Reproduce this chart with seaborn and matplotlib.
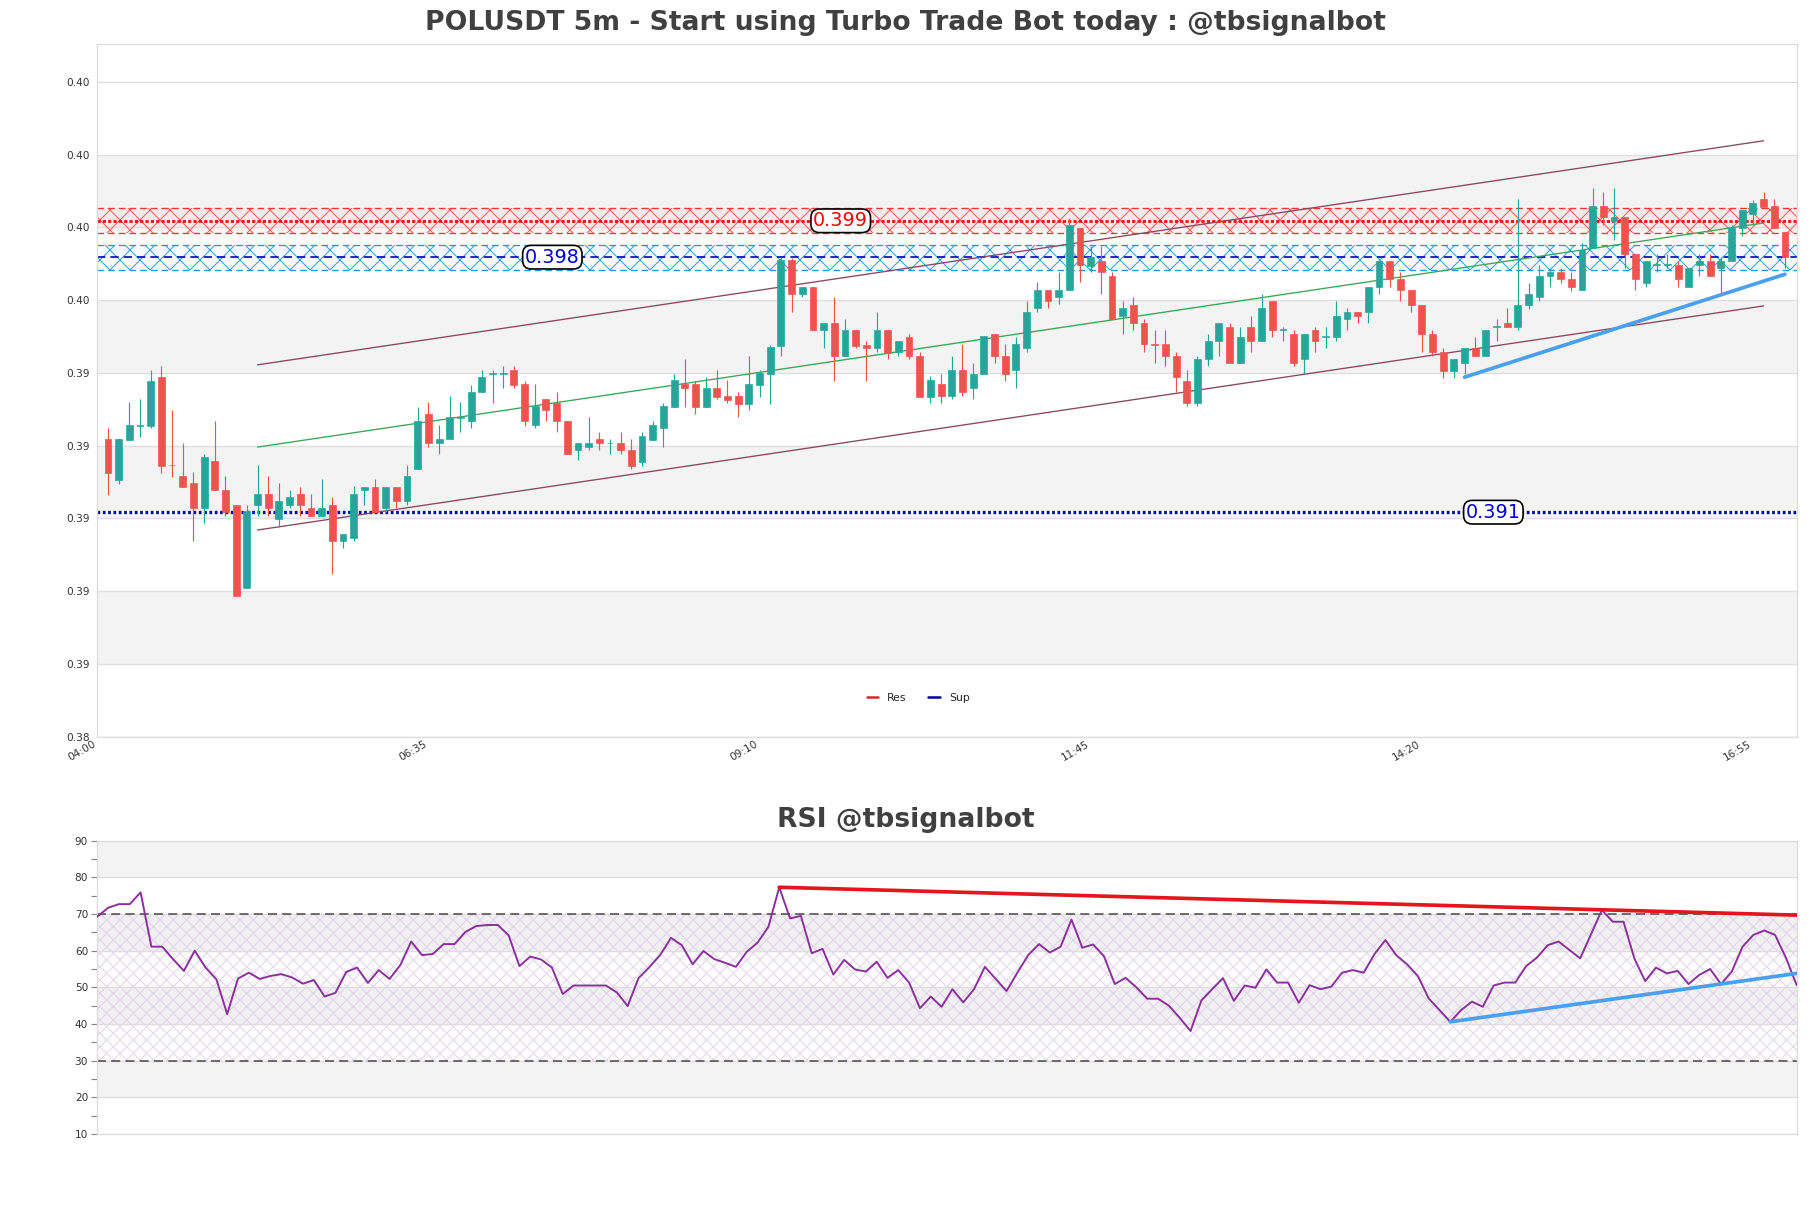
import numpy as np
import pandas as pd
import seaborn as sns
import matplotlib
matplotlib.use('Agg')
import matplotlib.pyplot as plt
from matplotlib.lines import Line2D
from matplotlib.ticker import FormatStrFormatter, MultipleLocator

sns.set_theme(style='white')
plt.rcParams['font.family'] = ['DejaVu Sans']
plt.rcParams['hatch.linewidth'] = 0.6

# ---- data ----
times = ['04:00', '06:35', '09:10', '11:45', '14:20', '16:55']

opens = [
    0.39299, 0.39186, 0.39296, 0.39334, 0.39333, 0.39469, 0.39228, 0.39197, 0.39177, 0.39108,
    0.39238, 0.39159, 0.39118, 0.38888, 0.39116, 0.39148, 0.39077, 0.39116, 0.39148, 0.39108,
    0.39087, 0.39118, 0.39017, 0.39027, 0.39157, 0.39167, 0.39108, 0.39167, 0.39128, 0.39217,
    0.39368, 0.39287, 0.39299, 0.39357, 0.39348, 0.39428, 0.39477, 0.39477, 0.39489, 0.39448,
    0.39336, 0.39408, 0.39398, 0.39348, 0.39267, 0.39276, 0.39298, 0.39286, 0.39287, 0.39268,
    0.39236, 0.39296, 0.39328, 0.39385, 0.39448, 0.39448, 0.39385, 0.39438, 0.39417, 0.39417,
    0.39395, 0.39446, 0.39477, 0.39555, 0.39789, 0.39697, 0.39717, 0.39597, 0.39617, 0.39525,
    0.39599, 0.39557, 0.39547, 0.39599, 0.39537, 0.39579, 0.39527, 0.39415, 0.39448, 0.39416,
    0.39489, 0.39437, 0.39478, 0.39587, 0.39527, 0.39487, 0.39548, 0.39657, 0.39709, 0.39689,
    0.39709, 0.39878, 0.39775, 0.39788, 0.39747, 0.39637, 0.39667, 0.39617, 0.39559, 0.39558,
    0.39527, 0.39457, 0.39397, 0.39518, 0.39567, 0.39607, 0.39507, 0.39607, 0.39567, 0.39678,
    0.39598, 0.39587, 0.39518, 0.39599, 0.39579, 0.39579, 0.39628, 0.39647, 0.39646, 0.39716,
    0.39788, 0.39739, 0.39709, 0.39667, 0.39587, 0.39537, 0.39486, 0.39506, 0.39548, 0.39526,
    0.39607, 0.39617, 0.39606, 0.39667, 0.39689, 0.39747, 0.39757, 0.39739, 0.39707, 0.39823,
    0.39938, 0.39897, 0.39908, 0.39808, 0.39727, 0.39776, 0.39777, 0.39777, 0.39716, 0.39777,
    0.39788, 0.39768, 0.39788, 0.39878, 0.39918, 0.39959, 0.39938, 0.39867,
]
highs = [
    0.39328, 0.39299, 0.39399, 0.39409, 0.39489, 0.39498, 0.39379, 0.39287, 0.39207, 0.39257,
    0.39348, 0.39197, 0.39118, 0.39118, 0.39227, 0.39197, 0.39177, 0.39159, 0.39167, 0.39148,
    0.39188, 0.39139, 0.39037, 0.39168, 0.39167, 0.39188, 0.39167, 0.39167, 0.39227, 0.39387,
    0.39399, 0.39337, 0.39417, 0.39399, 0.39447, 0.39489, 0.39489, 0.39498, 0.39498, 0.39457,
    0.39448, 0.39408, 0.39428, 0.39348, 0.39287, 0.39359, 0.39317, 0.39298, 0.39317, 0.39299,
    0.39317, 0.39348, 0.39397, 0.39477, 0.39519, 0.39457, 0.39469, 0.39489, 0.39459, 0.39427,
    0.39527, 0.39489, 0.39557, 0.39796, 0.39796, 0.39717, 0.39717, 0.39617, 0.39688, 0.39629,
    0.39599, 0.39568, 0.39648, 0.39599, 0.39568, 0.39588, 0.39536, 0.39470, 0.39478, 0.39527,
    0.39558, 0.39507, 0.39580, 0.39587, 0.39558, 0.39579, 0.39678, 0.39729, 0.39709, 0.39758,
    0.39906, 0.39878, 0.39828, 0.39828, 0.39758, 0.39678, 0.39689, 0.39628, 0.39599, 0.39599,
    0.39537, 0.39487, 0.39527, 0.39587, 0.39617, 0.39617, 0.39607, 0.39637, 0.39697, 0.39678,
    0.39607, 0.39599, 0.39587, 0.39607, 0.39607, 0.39678, 0.39658, 0.39647, 0.39716, 0.39788,
    0.39788, 0.39757, 0.39709, 0.39667, 0.39597, 0.39547, 0.39518, 0.39548, 0.39579, 0.39597,
    0.39628, 0.39658, 0.39959, 0.39727, 0.39777, 0.39768, 0.39768, 0.39757, 0.39837, 0.39988,
    0.39977, 0.39988, 0.39908, 0.39808, 0.39788, 0.39808, 0.39808, 0.39787, 0.39768, 0.39808,
    0.39808, 0.39798, 0.39887, 0.39929, 0.39956, 0.39977, 0.39959, 0.39867,
]
lows = [
    0.39145, 0.39175, 0.39296, 0.39305, 0.39328, 0.39206, 0.39195, 0.39165, 0.39017, 0.39066,
    0.39157, 0.39087, 0.38866, 0.38888, 0.39086, 0.39087, 0.39057, 0.39108, 0.39087, 0.39087,
    0.39087, 0.38927, 0.38999, 0.39017, 0.39116, 0.39097, 0.39097, 0.39108, 0.39116, 0.39217,
    0.39275, 0.39257, 0.39299, 0.39317, 0.39328, 0.39428, 0.39397, 0.39437, 0.39437, 0.39335,
    0.39328, 0.39347, 0.39317, 0.39257, 0.39241, 0.39267, 0.39267, 0.39257, 0.39257, 0.39215,
    0.39224, 0.39296, 0.39276, 0.39385, 0.39385, 0.39368, 0.39385, 0.39408, 0.39397, 0.39359,
    0.39377, 0.39415, 0.39395, 0.39525, 0.39646, 0.39688, 0.39597, 0.39547, 0.39457, 0.39525,
    0.39547, 0.39457, 0.39537, 0.39518, 0.39525, 0.39518, 0.39415, 0.39397, 0.39397, 0.39408,
    0.39416, 0.39408, 0.39478, 0.39507, 0.39457, 0.39437, 0.39537, 0.39648, 0.39657, 0.39669,
    0.39709, 0.39729, 0.39758, 0.39698, 0.39628, 0.39587, 0.39599, 0.39537, 0.39507, 0.39498,
    0.39427, 0.39388, 0.39388, 0.39498, 0.39527, 0.39507, 0.39507, 0.39537, 0.39567, 0.39579,
    0.39567, 0.39498, 0.39478, 0.39537, 0.39548, 0.39567, 0.39599, 0.39617, 0.39617, 0.39697,
    0.39716, 0.39677, 0.39647, 0.39537, 0.39526, 0.39466, 0.39466, 0.39477, 0.39526, 0.39526,
    0.39567, 0.39606, 0.39597, 0.39656, 0.39677, 0.39716, 0.39727, 0.39706, 0.39707, 0.39823,
    0.39887, 0.39846, 0.39768, 0.39709, 0.39716, 0.39757, 0.39768, 0.39716, 0.39716, 0.39747,
    0.39747, 0.39700, 0.39788, 0.39857, 0.39887, 0.39935, 0.39878, 0.39768,
]
closes = [
    0.39206, 0.39299, 0.39337, 0.39337, 0.39458, 0.39225, 0.39226, 0.39165, 0.39108, 0.39249,
    0.39157, 0.39097, 0.38866, 0.39099, 0.39148, 0.39108, 0.39128, 0.39140, 0.39116, 0.39087,
    0.39108, 0.39017, 0.39037, 0.39148, 0.39167, 0.39097, 0.39167, 0.39128, 0.39197, 0.39348,
    0.39287, 0.39299, 0.39358, 0.39359, 0.39428, 0.39469, 0.39479, 0.39479, 0.39447, 0.39347,
    0.39388, 0.39377, 0.39347, 0.39257, 0.39287, 0.39287, 0.39287, 0.39288, 0.39267, 0.39224,
    0.39307, 0.39337, 0.39388, 0.39459, 0.39437, 0.39385, 0.39438, 0.39415, 0.39406, 0.39395,
    0.39448, 0.39480, 0.39550, 0.39789, 0.39697, 0.39717, 0.39597, 0.39617, 0.39525, 0.39599,
    0.39555, 0.39547, 0.39599, 0.39535, 0.39568, 0.39525, 0.39415, 0.39459, 0.39416, 0.39489,
    0.39427, 0.39478, 0.39580, 0.39527, 0.39478, 0.39558, 0.39648, 0.39709, 0.39678, 0.39709,
    0.39887, 0.39776, 0.39798, 0.39758, 0.39628, 0.39658, 0.39617, 0.39558, 0.39557, 0.39527,
    0.39468, 0.39397, 0.39518, 0.39567, 0.39617, 0.39507, 0.39579, 0.39567, 0.39658, 0.39599,
    0.39600, 0.39507, 0.39587, 0.39567, 0.39581, 0.39637, 0.39648, 0.39637, 0.39716, 0.39788,
    0.39738, 0.39707, 0.39666, 0.39587, 0.39537, 0.39486, 0.39518, 0.39548, 0.39526, 0.39597,
    0.39609, 0.39606, 0.39667, 0.39697, 0.39747, 0.39757, 0.39738, 0.39715, 0.39819, 0.39938,
    0.39908, 0.39908, 0.39808, 0.39738, 0.39788, 0.39778, 0.39779, 0.39738, 0.39768, 0.39788,
    0.39747, 0.39788, 0.39878, 0.39929, 0.39947, 0.39935, 0.39878, 0.39798,
]
rsi = [
    69.3, 71.7, 72.7, 72.7, 75.9, 61.1, 61.1, 57.7, 54.5, 60.0,
    55.4, 52.2, 42.7, 52.4, 54.0, 52.3, 53.1, 53.6, 52.7, 51.0,
    52.0, 47.5, 48.5, 54.2, 55.4, 51.2, 54.7, 52.3, 56.1, 62.5,
    58.8, 59.1, 61.8, 61.8, 65.1, 66.7, 67.0, 67.0, 64.2, 55.8,
    58.4, 57.6, 55.4, 48.2, 50.5, 50.5, 50.5, 50.5, 48.6, 44.9,
    52.5, 55.5, 58.8, 63.5, 61.5, 56.3, 59.9, 57.7, 56.7, 55.6,
    59.7, 62.2, 66.5, 77.3, 68.8, 69.5, 59.3, 60.5, 53.5, 57.5,
    54.9, 54.3, 57.0, 52.6, 54.7, 51.3, 44.3, 47.5, 44.7, 49.5,
    45.9, 49.5, 55.6, 52.3, 49.0, 54.0, 58.8, 61.8, 59.5, 61.1,
    68.5, 60.8, 61.7, 58.5, 50.9, 52.6, 50.0, 46.9, 46.9, 45.0,
    41.7, 38.1, 46.4, 49.5, 52.5, 46.3, 50.5, 49.9, 54.9, 51.3,
    51.3, 45.8, 50.6, 49.5, 50.2, 54.0, 54.7, 54.0, 59.1, 62.9,
    58.8, 56.3, 53.1, 47.0, 43.8, 40.6, 43.8, 46.1, 44.7, 50.5,
    51.3, 51.3, 55.8, 58.1, 61.5, 62.5, 60.2, 57.9, 64.5, 71.1,
    67.9, 67.9, 57.9, 51.7, 55.4, 53.8, 54.5, 50.9, 53.4, 55.0,
    50.9, 54.3, 61.1, 64.3, 65.5, 64.3, 58.1, 50.6,
]

# support / resistance levels and zone half width
res_level = 0.39898
sup_level = 0.39798
sup2_level = 0.39097
zone_half = 0.00034

# channel (x in 5-minute steps from 04:00)
chan_x = [15, 156]
chan_upper = [0.39502, 0.40118]
chan_mid = [0.39276, 0.39892]
chan_lower = [0.39048, 0.39664]

# trend lines
price_trend_x = [128, 158]
price_trend_y = [0.39468, 0.39751]
rsi_res_x = [63, 157]
rsi_res_y = [77.3, 69.7]
rsi_sup_x = [125, 157]
rsi_sup_y = [40.6, 53.8]

UP = '#26a69a'
DOWN = '#ef5350'
SHADE = '#f3f3f3'
GRID = '#dedede'

W, H, DPI = 1811, 1208, 120
fig = plt.figure(figsize=(W / DPI, H / DPI), dpi=DPI)
fig.patch.set_facecolor('white')
ax = fig.add_axes([97.3 / W, 1 - 737 / H, 1699.4 / W, 693 / H])
ax2 = fig.add_axes([97.3 / W, 1 - 1134 / H, 1699.4 / W, 293.3 / H])

# ---------------- price panel ----------------
df = pd.DataFrame({'open': opens, 'high': highs, 'low': lows, 'close': closes})
df['pos'] = np.arange(1, len(df) + 1)
colors = np.where(df['close'] >= df['open'], UP, DOWN)

ymin, ymax = 0.38479, 0.40384
yt = 0.3848 + 0.002 * np.arange(10)
for i in range(1, 9, 2):
    ax.axhspan(yt[i], yt[i + 1], color=SHADE, lw=0, zorder=0.1)

# resistance zone
ax.axhspan(res_level - zone_half, res_level + zone_half, facecolor=(1, 0.85, 0.85, 0.3),
           edgecolor=(1, 0.15, 0.15, 0.75), hatch='xx', lw=0, zorder=1)
ax.axhline(res_level - zone_half, color='#ff3333', ls=(0, (5, 3)), lw=0.8, zorder=1.2)
ax.axhline(res_level + zone_half, color='#ff3333', ls=(0, (5, 3)), lw=0.8, zorder=1.2)
ax.axhline(res_level, color='red', ls=(0, (1.2, 0.8)), lw=1.6, zorder=1.3)
# support zone
ax.axhspan(sup_level - zone_half, sup_level + zone_half, facecolor=(0.9, 0.96, 1, 0.3),
           edgecolor=(0.1, 0.58, 0.88, 0.9), hatch='xx', lw=0, zorder=1)
ax.axhline(sup_level - zone_half, color='#1e96e6', ls=(0, (5, 3)), lw=0.8, zorder=1.2)
ax.axhline(sup_level + zone_half, color='#1e96e6', ls=(0, (5, 3)), lw=0.8, zorder=1.2)
ax.axhline(sup_level, color='#0000cc', ls=(0, (5, 3)), lw=1.0, zorder=1.3)
# lower support
ax.axhline(sup2_level, color='#0000b0', ls=(0, (0.8, 0.8)), lw=2.0, zorder=1.3)

# channel
sns.lineplot(x=chan_x, y=chan_upper, color='#8c4660', lw=0.8, ax=ax, zorder=2)
sns.lineplot(x=chan_x, y=chan_lower, color='#8c4660', lw=0.8, ax=ax, zorder=2)
sns.lineplot(x=chan_x, y=chan_mid, color='#3aa655', lw=0.8, ax=ax, zorder=2)

# candles
ax.vlines(df['pos'], df['low'], df['high'], colors=colors, lw=0.7, zorder=3)
ax.bar(df['pos'], (df['close'] - df['open']).abs(),
       bottom=df[['open', 'close']].min(axis=1), width=0.64,
       color=colors, edgecolor=colors, linewidth=0.4, zorder=4)

sns.lineplot(x=price_trend_x, y=price_trend_y, color='#4aa0f0', lw=2.2, ax=ax, zorder=5)

box = dict(boxstyle='round,pad=0.12,rounding_size=0.45', fc='white', ec='black', lw=1)
ax.text(69.6, res_level, f'{res_level:.3f}', color='red', fontsize=11.5,
        ha='center', va='center', bbox=box, zorder=10)
ax.text(42.6, sup_level, f'{sup_level:.3f}', color='#0000cc', fontsize=11.5,
        ha='center', va='center', bbox=box, zorder=10)
ax.text(130.7, sup2_level, f'{sup2_level:.3f}', color='#0000cc', fontsize=11.5,
        ha='center', va='center', bbox=box, zorder=10)

ax.set_xlim(0, 159.1)
ax.set_ylim(ymin, ymax)
ax.set_yticks(yt)
ax.yaxis.set_major_formatter(FormatStrFormatter('%.2f'))
ax.set_xticks([0, 31, 62, 93, 124, 155])
ax.set_xticklabels(times, rotation=30, ha='right')
ax.tick_params(axis='both', length=0, labelsize=6.3, labelcolor='#333333')
ax.tick_params(axis='y', pad=4.5)
ax.tick_params(axis='x', pad=1)
ax.grid(axis='y', color=GRID, lw=0.8)
ax.set_axisbelow(True)
for s in ax.spines.values():
    s.set_color('#dddddd')
    s.set_linewidth(0.8)
ax.set_xlabel('')
ax.set_ylabel('')

handles = [Line2D([], [], color='#d62728', lw=1.5), Line2D([], [], color='#0000aa', lw=1.5)]
ax.legend(handles, ['Res', 'Sup'], loc='lower center', bbox_to_anchor=(0.483, 0.035), ncol=2,
          frameon=False, fontsize=6.5, handlelength=1.1, columnspacing=2.0, handletextpad=0.8)

# ---------------- RSI panel ----------------
xr = np.arange(len(rsi))
for lo in (20, 40, 60, 80):
    ax2.axhspan(lo, lo + 10, color=SHADE, lw=0, zorder=0.1)
ax2.axhspan(30, 70, facecolor=(0.9, 0.8, 0.92, 0.06), edgecolor=(0.85, 0.78, 0.9, 0.7),
            hatch='xxx', lw=0, zorder=0.2)
ax2.axhline(70, color='#444444', ls=(0, (6, 3.5)), lw=0.9, zorder=1)
ax2.axhline(30, color='#444444', ls=(0, (6, 3.5)), lw=0.9, zorder=1)
sns.lineplot(x=xr, y=rsi, color='#8a2f9b', lw=1.15, ax=ax2, zorder=3)
sns.lineplot(x=rsi_res_x, y=rsi_res_y, color='#e3161e', lw=2.2, ax=ax2, zorder=4)
sns.lineplot(x=rsi_sup_x, y=rsi_sup_y, color='#4aa0f0', lw=2.2, ax=ax2, zorder=4)

ax2.set_xlim(0, len(rsi) - 1)
ax2.set_ylim(10, 90)
ax2.set_yticks(np.arange(10, 91, 10))
ax2.yaxis.set_minor_locator(MultipleLocator(5))
ax2.set_xticks([])
ax2.tick_params(axis='y', which='both', left=True, length=3.5, width=0.7, color='#888888',
                labelsize=6.3, labelcolor='#333333', pad=2)
ax2.grid(axis='y', color=GRID, lw=0.8)
ax2.set_axisbelow(True)
for s in ax2.spines.values():
    s.set_color('#dddddd')
    s.set_linewidth(0.8)
ax2.set_xlabel('')
ax2.set_ylabel('')

fig.text(0.5, 1 - 23 / H, 'POLUSDT 5m - Start using Turbo Trade Bot today : @tbsignalbot',
         ha='center', va='center', fontsize=16, fontweight='bold', color='#404040')
fig.text(0.5, 1 - 820 / H, 'RSI @tbsignalbot', ha='center', va='center',
         fontsize=16, fontweight='bold', color='#404040')

fig.savefig('out.png', dpi=DPI)
